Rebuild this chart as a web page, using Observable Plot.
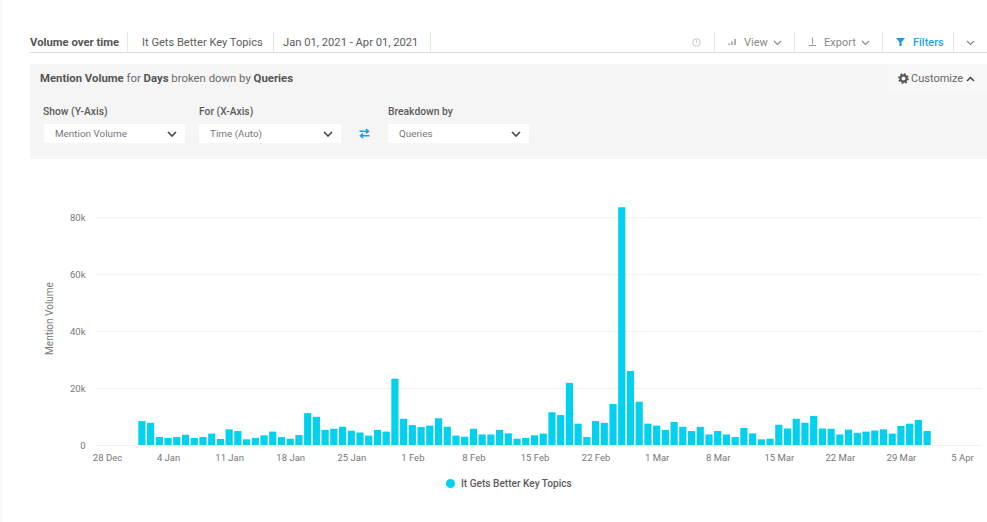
<!DOCTYPE html>
<html>
<head>
<meta charset="utf-8">
<script src="https://cdn.jsdelivr.net/npm/d3@7"></script>
<script src="https://cdn.jsdelivr.net/npm/@observablehq/plot@0.6"></script>
<style>
html,body{margin:0;padding:0;background:#fff;width:987px;height:522px;overflow:hidden;font-family:Roboto,"Open Sans",sans-serif;color:#555}
#page{position:relative;width:987px;height:522px;border-left:3px solid #f8f8f8;box-sizing:border-box;margin:0}
#ui{position:absolute;left:-3px;top:0;width:987px;height:165px}
#ui div,#ui>svg{position:absolute;white-space:nowrap}
.tab{font-size:11px;color:#5c5c5c;top:36px;line-height:13px}
.sep{width:1px;height:20px;top:32px;background:#e6e6e6}
.sel{background:#fff;height:19px;top:124px;border-radius:2px;font-size:9.9px;color:#777;line-height:19px;box-sizing:border-box;padding-left:11px}
.sel svg{position:absolute;right:8px;top:7px}
.lab{font-size:10.3px;font-weight:500;color:#5c5c5c;top:106px;line-height:12px}
#chart{position:absolute;left:-3px;top:165px}
#legend{position:absolute;left:-3px;top:477px;width:987px;height:16px}
#legend i{position:absolute;left:446px;top:2px;width:9px;height:9px;border-radius:50%;background:#00d1ee}
#legend b{position:absolute;left:461px;top:1px;font-size:10.1px;font-weight:500;color:#5c5c5c;white-space:nowrap}
</style>
</head>
<body>
<div id="page">
  <div id="ui">
    <div style="left:30px;top:52px;width:957px;height:1px;background:#ddd"></div>
    <div class="tab" style="left:30px;font-weight:700;font-size:11.3px;color:#555">Volume over time</div>
    <div class="sep" style="left:127px"></div>
    <div class="tab" style="left:142px;font-size:11.1px">It Gets Better Key Topics</div>
    <div class="sep" style="left:273px"></div>
    <div class="tab" style="left:283px;font-size:11.2px">Jan 01, 2021 - Apr 01, 2021</div>
    <div class="sep" style="left:430px"></div>
    <div class="sep" style="left:714px"></div>
    <div class="sep" style="left:794px"></div>
    <div class="sep" style="left:882px"></div>
    <div class="sep" style="left:953px"></div>
    <svg style="left:692px;top:38px" width="9" height="9"><circle cx="4.5" cy="4.5" r="3.7" fill="none" stroke="#c8c8c8"/><path d="M4.5 2.2v2.5" stroke="#c8c8c8"/></svg>
    <svg style="left:728px;top:38px" width="9" height="8"><path d="M1 7V5.5M4 7V3.5M7 7V1" stroke="#888" stroke-width="1.3"/></svg>
    <div class="tab" style="left:744px;color:#888">View</div>
    <svg style="left:773px;top:40px" width="9" height="6"><path d="M1 1l3.5 3.5L8 1" fill="none" stroke="#888" stroke-width="1.2"/></svg>
    <svg style="left:808px;top:37px" width="9" height="10"><path d="M4.5 0.5v7M1 8.5h7" fill="none" stroke="#999" stroke-width="1"/></svg>
    <div class="tab" style="left:824px;color:#888">Export</div>
    <svg style="left:861px;top:40px" width="9" height="6"><path d="M1 1l3.5 3.5L8 1" fill="none" stroke="#888" stroke-width="1.2"/></svg>
    <svg style="left:896px;top:38px" width="9" height="8"><path d="M0 0h9L5.6 4v4H3.4V4z" fill="#1e9be0"/></svg>
    <div class="tab" style="left:913px;color:#2a9fe0;font-weight:500">Filters</div>
    <svg style="left:966px;top:40px" width="9" height="6"><path d="M1 1l3.5 3.5L8 1" fill="none" stroke="#888" stroke-width="1.2"/></svg>
    <div style="left:30px;top:64px;width:957px;height:95px;background:#f5f5f5"></div>
    <div style="left:888px;top:64px;width:99px;height:29px;background:#f8f8f8"></div>
    <div style="left:40px;top:72px;font-size:11.35px;color:#6a6a6a;line-height:13px"><b style="color:#555">Mention Volume</b> for <b style="color:#555">Days</b> broken down by <b style="color:#555">Queries</b></div>
    <svg style="left:898px;top:73px" width="11" height="11"><circle cx="5.5" cy="5.5" r="3.1" fill="none" stroke="#555" stroke-width="2.2"/><circle cx="5.5" cy="5.5" r="4.6" fill="none" stroke="#555" stroke-width="1.6" stroke-dasharray="1.8 1.8"/></svg>
    <div style="left:911px;top:72px;font-size:11px;color:#666;line-height:13px">Customize</div>
    <svg style="left:966px;top:76px" width="9" height="6"><path d="M1 5l3.5-3.5L8 5" fill="none" stroke="#444" stroke-width="1.5"/></svg>
    <div class="lab" style="left:43px">Show (Y-Axis)</div>
    <div class="lab" style="left:199px">For (X-Axis)</div>
    <div class="lab" style="left:388px">Breakdown by</div>
    <div class="sel" style="left:44px;width:141px">Mention Volume<svg width="10" height="6"><path d="M1 1l4 4 4-4" fill="none" stroke="#444" stroke-width="1.6"/></svg></div>
    <div class="sel" style="left:199px;width:142px">Time (Auto)<svg width="10" height="6"><path d="M1 1l4 4 4-4" fill="none" stroke="#444" stroke-width="1.6"/></svg></div>
    <div class="sel" style="left:388px;width:141px">Queries<svg width="10" height="6"><path d="M1 1l4 4 4-4" fill="none" stroke="#444" stroke-width="1.6"/></svg></div>
    <svg style="left:359px;top:128px" width="11" height="11"><path d="M0.5 3.2h9M7 1l2.5 2.2L7 5.4M10.5 7.8h-9M4 5.6L1.5 7.8 4 10" fill="none" stroke="#1e9be0" stroke-width="1.5"/></svg>
  </div>
  <div id="chart"></div>
  <div id="legend"><i></i><b>It Gets Better Key Topics</b></div>
</div>
<script>
const startDate = "2021-01-01";
const seriesName = "It Gets Better Key Topics";
const mentions = [
  8.4,7.8,2.8,2.5,2.8,3.6,2.5,2.8,4,2.1,5.5,4.9,2,2.5,3.4,4.7,2.8,2.2,3.5,11.2,9.9,5.3,5.7,6.4,5,4.4,3.3,5.3,4.7,23.3,
  9.2,7,6.3,6.8,9.4,6.4,3.3,2.9,5.7,3.7,3.7,5.3,4.1,2.2,2.5,3.4,4,11.5,10.5,21.8,7.5,2.8,8.4,7.8,14.4,83.5,26,15.2,7.5,
  6.8,5.3,8.1,6.4,4.9,6.4,3.7,4.9,3.7,2.8,6,4.1,2,2.2,7.1,5.8,9.2,7.8,10.2,5.8,5.7,3.7,5.4,4.3,4.7,5.1,5.5,4,6.7,7.5,8.8,4.9
];
const yTicks = [0,20000,40000,60000,80000];
const xTickDates = ["2020-12-28","2021-01-04","2021-01-11","2021-01-18","2021-01-25","2021-02-01","2021-02-08","2021-02-15","2021-02-22","2021-03-01","2021-03-08","2021-03-15","2021-03-22","2021-03-29","2021-04-05"];
const xDomain = ["2020-12-28","2021-04-05"];

const dayMs = 864e5;
const start = new Date(startDate + "T00:00Z");
const rows = mentions.map((v,i)=>({date:new Date(+start+i*dayMs), value:v*1000, series:seriesName}));
const fmtDate = d3.utcFormat("%-d %b");

const plot = Plot.plot({
  width: 987, height: 308,
  marginLeft: 107, marginRight: 25, marginTop: 38, marginBottom: 28,
  style: {background:"transparent", fontFamily:"Roboto,sans-serif", fontSize:"9.5px", color:"#777"},
  x: {type:"utc", domain:xDomain.map(d=>new Date(d+"T00:00Z")), ticks:xTickDates.map(d=>new Date(d+"T00:00Z")), tickFormat:fmtDate, tickSize:0, tickPadding:9, label:null},
  y: {domain:[0,85000], ticks:yTicks, tickFormat:d=>d===0?"0":d/1000+"k", tickSize:0, tickPadding:22, label:null},
  marks: [
    Plot.ruleY(yTicks,{stroke:"#f1f1f1", insetLeft:-10, insetRight:-20}),
    Plot.rectY(rows,{x1:d=>new Date(+d.date-0.41*dayMs), x2:d=>new Date(+d.date+0.41*dayMs), y1:0, y2:"value", fill:"#00d1ee"}),
    Plot.text(["Mention Volume"],{frameAnchor:"left", textAnchor:"middle", rotate:-90, dx:-58, dy:-6, text:d=>d, fontSize:10, fill:"#777"})
  ]
});
document.getElementById("chart").appendChild(plot);
</script>
</body>
</html>
